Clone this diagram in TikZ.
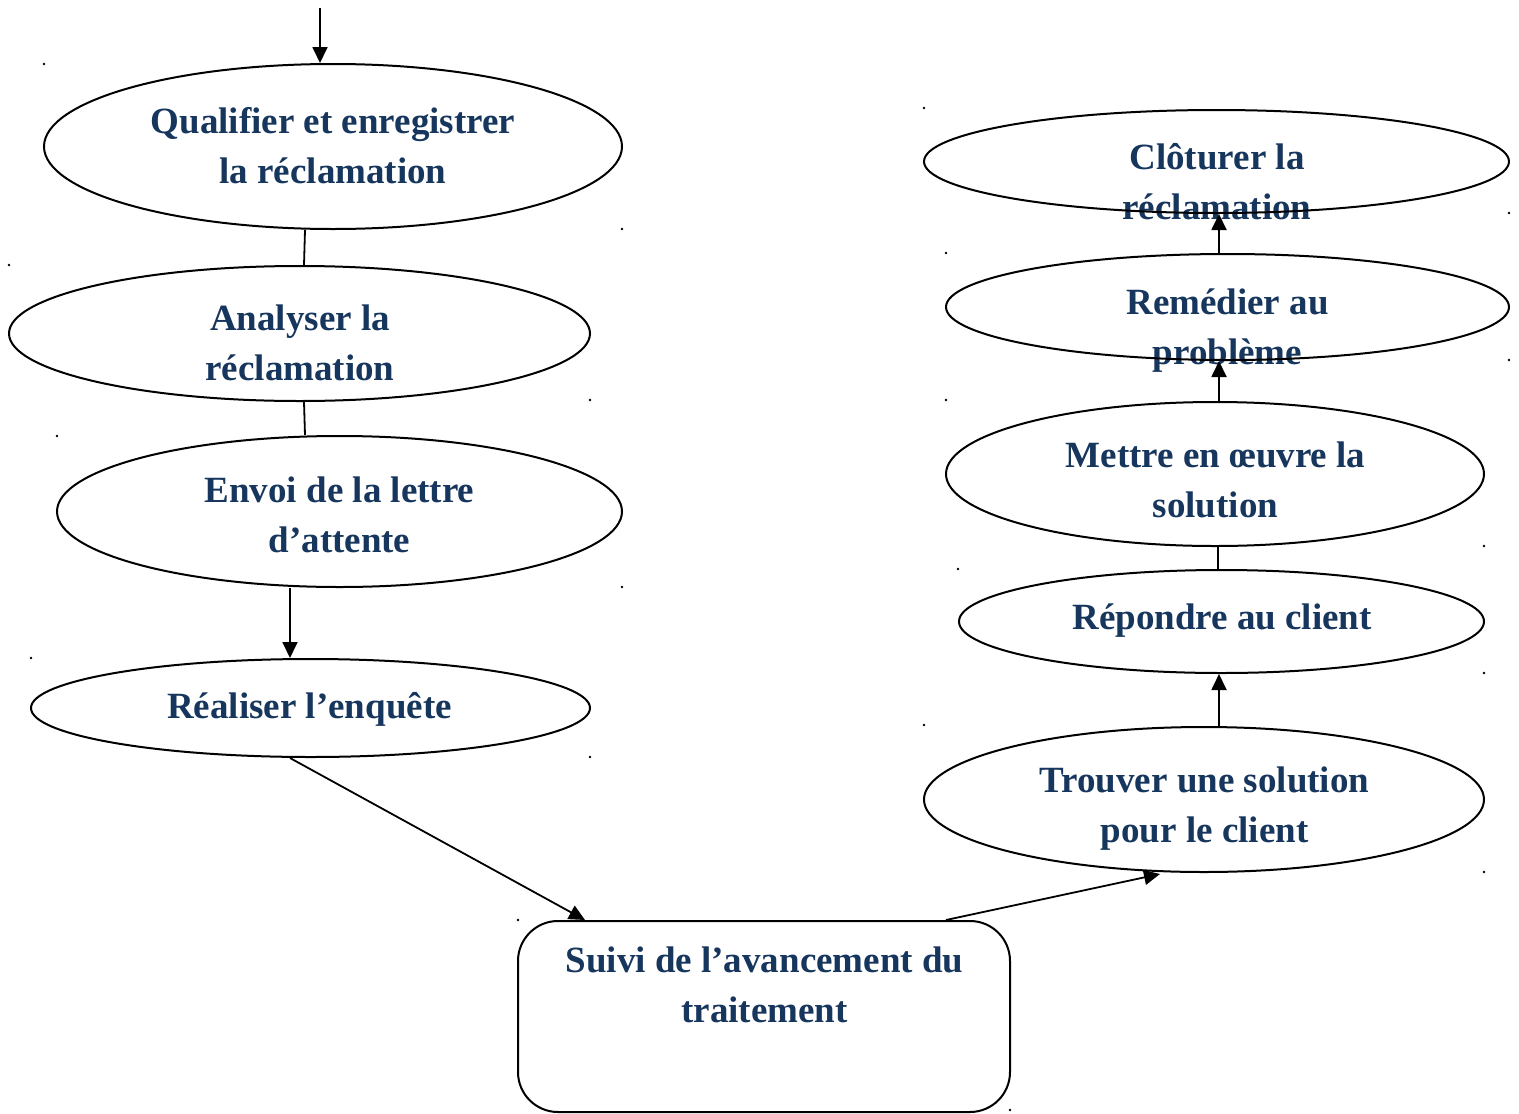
\documentclass[tikz,border=0pt]{standalone}
\usepackage{fontspec}
\setmainfont{Liberation Serif}
\usetikzlibrary{arrows.meta,shapes.geometric}
\definecolor{textblue}{RGB}{23,54,93}
\tikzset{
  stepell/.style n args={2}{draw=black, line width=2pt, ellipse, inner sep=0pt,
     minimum width=#1pt, minimum height=#2pt},
  steptext/.style={text=textblue, align=center, inner sep=0pt,
     font=\fontsize{37}{50}\selectfont\bfseries},
  flow/.style={line width=1.8pt, -{Triangle[length=16pt,width=15pt]}},
  plain/.style={line width=1.8pt},
  anchordot/.style={fill=black}
}
\newcommand{\st}{\strut}
\begin{document}
\begin{tikzpicture}[x=1pt,y=-1pt]
\useasboundingbox (0,0) rectangle (1519,1114);
\fill[white] (0,0) rectangle (1519,1114);

% tiny anchor dots
\foreach \p in {(44,64),(622,229),(9,265),(590,400),(57,436),(622,587),(31,658),(590,757),(924,108),(1509,213),(946,253),(1509,360),(946,400),(1484,546),(958,569),(1484,673),(924,725),(1484,872),(518,920),(1010,1110)}
  \fill[anchordot] \p circle (1.3pt);

% texts
\node[steptext] (tq) at (333,148) {\st Qualifier et enregistrer\\\st la réclamation};
\node[steptext] (ta) at (300,345.5) {\st Analyser la\\\st réclamation};
\node[steptext] (te) at (339.5,517.5) {\st Envoi de la lettre\\\st d’attente};
\node[steptext] (tr) at (309.5,708) {\st Réaliser l’enquête};
\node[steptext] (ts) at (764.5,987.5) {\st Suivi de l’avancement du\\\st traitement};
\node[steptext] (tt) at (1204.5,807) {\st Trouver une solution\\\st pour le client};
\node[steptext] (tp) at (1222,619) {\st Répondre au client};
\node[steptext] (tm) at (1215.5,482) {\st Mettre en œuvre la\\\st solution};
\node[steptext] (tx) at (1227.5,329) {\st Remédier au\\\st problème};
\node[steptext] (tc) at (1217,184) {\st Clôturer la\\\st réclamation};

% shapes
\node[stepell={578}{165}] (q) at (333,146.5) {};
\node[stepell={581}{135}] (a) at (299.5,333.5) {};
\node[stepell={565}{151}] (e) at (339.5,511.5) {};
\node[stepell={559}{98}] (r) at (310.5,708) {};
\node[draw=black, line width=2pt, rounded corners=40pt, inner sep=0pt,
      minimum width=492pt, minimum height=191pt] (s) at (764,1016.5) {};
\node[stepell={560}{145}] (t) at (1204,799.5) {};
\node[stepell={525}{103}] (p) at (1221.5,621.5) {};
\node[stepell={538}{144}] (m) at (1215,474) {};
\node[stepell={563}{106}] (x) at (1227.5,307) {};
\node[stepell={585}{103}] (c) at (1216.5,161.5) {};

% connectors
\coordinate (start) at (320,8);
\draw[flow] (start) -- (start |- q.north);
\coordinate (k1) at (305,0);
\coordinate (k2) at (304,0);
\draw[plain] (q.south -| k1) -- (a.north -| k2);
\coordinate (k3) at (305,0);
\draw[plain] (a.south -| k2) -- (e.north -| k3);
\coordinate (k4) at (290,0);
\draw[flow] (e.south -| k4) -- (r.north -| k4);
\coordinate (k5) at (585,0);
\draw[flow] (r.south -| k4) -- (s.north -| k5);
\coordinate (k6) at (946,0);
\coordinate (k7) at (1160,0);
\draw[flow] (s.north -| k6) -- ([yshift=-1pt]t.south -| k7);
\coordinate (k8) at (1219,0);
\draw[flow] (t.north -| k8) -- (p.south -| k8);
\coordinate (k9) at (1218,0);
\draw[plain] (p.north -| k9) -- (m.south -| k9);
\draw[flow] (m.north -| k8) -- (x.south -| k8);
\draw[flow] (x.north -| k8) -- (c.south -| k8);
\end{tikzpicture}
\end{document}
